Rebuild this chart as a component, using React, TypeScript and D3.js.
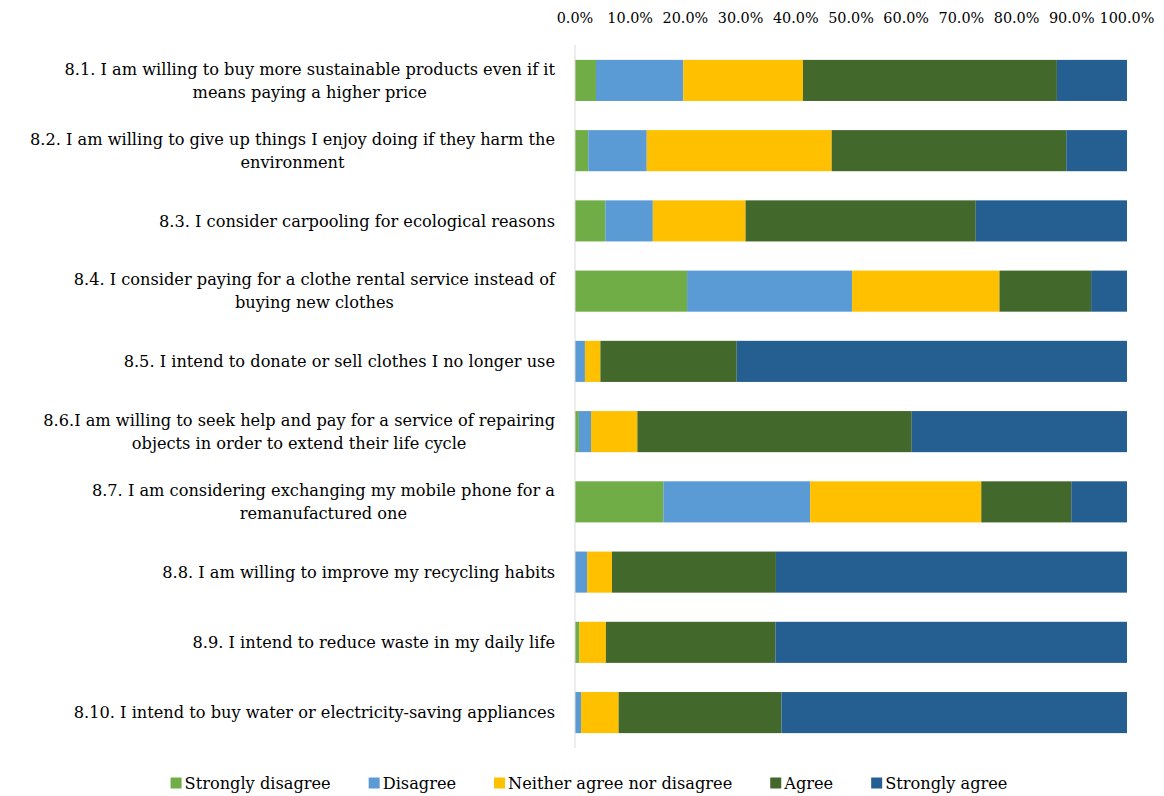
import React, { useEffect, useRef } from "react";
import * as d3 from "d3";

const categories: string[][] = [
  ["8.1. I am willing to buy more sustainable products even if it", "means paying a higher price"],
  ["8.2. I am willing to give up things I enjoy doing if they harm the", "environment"],
  ["8.3. I consider carpooling for ecological reasons"],
  ["8.4. I consider paying for a clothe rental service instead of", "buying new clothes"],
  ["8.5. I intend to donate or sell clothes I no longer use"],
  ["8.6.I am willing to seek help and pay for a service of repairing", "objects in order to extend their life cycle"],
  ["8.7. I am considering exchanging my mobile phone for a", "remanufactured one"],
  ["8.8. I am willing to improve my recycling habits"],
  ["8.9. I intend to reduce waste in my daily life"],
  ["8.10. I intend to buy water or electricity-saving appliances"],
];

const seriesNames = ["Strongly disagree", "Disagree", "Neither agree nor disagree", "Agree", "Strongly agree"];
const seriesColors = ["#70AD47", "#5B9BD5", "#FFC000", "#43682B", "#255E91"];

const stronglyDisagree = [3.8, 2.4, 5.5, 20.3, 0.0, 0.7, 16.0, 0.0, 0.8, 0.0];
const disagree = [15.8, 10.6, 8.6, 29.9, 1.8, 2.2, 26.6, 2.2, 0.0, 1.1];
const neither = [21.7, 33.5, 16.8, 26.7, 2.8, 8.4, 31.0, 4.5, 4.8, 6.8];
const agree = [46.0, 42.5, 41.7, 16.6, 24.7, 49.7, 16.3, 29.7, 30.7, 29.5];
const stronglyAgree = [12.7, 11.0, 27.4, 6.5, 70.7, 39.0, 10.1, 63.6, 63.7, 62.6];

const tickValues = [0, 10, 20, 30, 40, 50, 60, 70, 80, 90, 100];

export default function App() {
  const ref = useRef<SVGSVGElement | null>(null);

  useEffect(() => {
    const svg = d3.select(ref.current);
    svg.selectAll("*").remove();
    const font = "'DejaVu Serif', serif";
    const x = d3.scaleLinear().domain([0, 100]).range([575, 1127]);
    const y = d3.scaleBand<number>()
      .domain(d3.range(categories.length))
      .range([45.3, 747.7])
      .paddingInner(0.415)
      .paddingOuter(0.2075);

    const series = [stronglyDisagree, disagree, neither, agree, stronglyAgree];
    const rows = categories.map((_, i) => {
      const o: any = { i };
      seriesNames.forEach((n, k) => (o[n] = series[k][i]));
      return o;
    });
    const stacked = d3.stack<any>().keys(seriesNames)(rows);

    const g = svg.append("g");
    stacked.forEach((s, k) => {
      g.selectAll(null)
        .data(s)
        .enter()
        .append("rect")
        .attr("x", (d) => x(d[0]))
        .attr("width", (d) => Math.max(0, x(d[1]) - x(d[0])))
        .attr("y", (d) => y(d.data.i)!)
        .attr("height", y.bandwidth())
        .attr("fill", seriesColors[k]);
    });

    svg.append("line")
      .attr("x1", x(0)).attr("x2", x(0))
      .attr("y1", 45).attr("y2", 748)
      .attr("stroke", "#d9d9d9").attr("stroke-width", 1);

    svg.selectAll(null)
      .data(tickValues)
      .enter()
      .append("text")
      .attr("x", (d) => x(d))
      .attr("y", 18)
      .attr("dy", "0.35em")
      .attr("text-anchor", "middle")
      .attr("font-family", font)
      .attr("font-size", 14.4)
      .attr("fill", "#000")
      .text((d) => d3.format(".1f")(d) + "%");

    const right = 555;
    const lh = 23;
    categories.forEach((lines, i) => {
      const cy = y(i)! + y.bandwidth() / 2;
      const tg = svg.append("g");
      const texts = lines.map((l, j) =>
        tg.append("text")
          .attr("y", cy + (j - (lines.length - 1) / 2) * lh)
          .attr("dy", "0.35em")
          .attr("font-family", font)
          .attr("font-size", 16.2)
          .attr("fill", "#000")
          .text(l)
      );
      const widths = texts.map((t) => (t.node() as SVGTextElement).getComputedTextLength());
      const maxW = Math.max(...widths);
      const center = right - maxW / 2;
      texts.forEach((t) => t.attr("x", center).attr("text-anchor", "middle"));
    });

    // legend: measured layout, centred
    const lgRoot = svg.append("g");
    const items = seriesNames.map((n, k) => {
      const lg = lgRoot.append("g");
      lg.append("rect").attr("x", 0).attr("y", -5.5).attr("width", 11).attr("height", 11).attr("fill", seriesColors[k]);
      const t = lg.append("text")
        .attr("x", 14)
        .attr("y", 0)
        .attr("dy", "0.35em")
        .attr("font-family", font)
        .attr("font-size", 16.2)
        .attr("fill", "#000")
        .text(n);
      const w = 14 + (t.node() as SVGTextElement).getComputedTextLength();
      return { lg, w };
    });
    const gap = 38;
    const total = d3.sum(items, (d) => d.w) + gap * (items.length - 1);
    let cx = 589 - total / 2;
    items.forEach((it) => {
      it.lg.attr("transform", `translate(${cx},783)`);
      cx += it.w + gap;
    });
  }, []);

  return (
    <svg
      ref={ref}
      width={1164}
      height={796}
      style={{ position: "absolute", left: 0, top: 0, background: "#fff" }}
    />
  );
}
